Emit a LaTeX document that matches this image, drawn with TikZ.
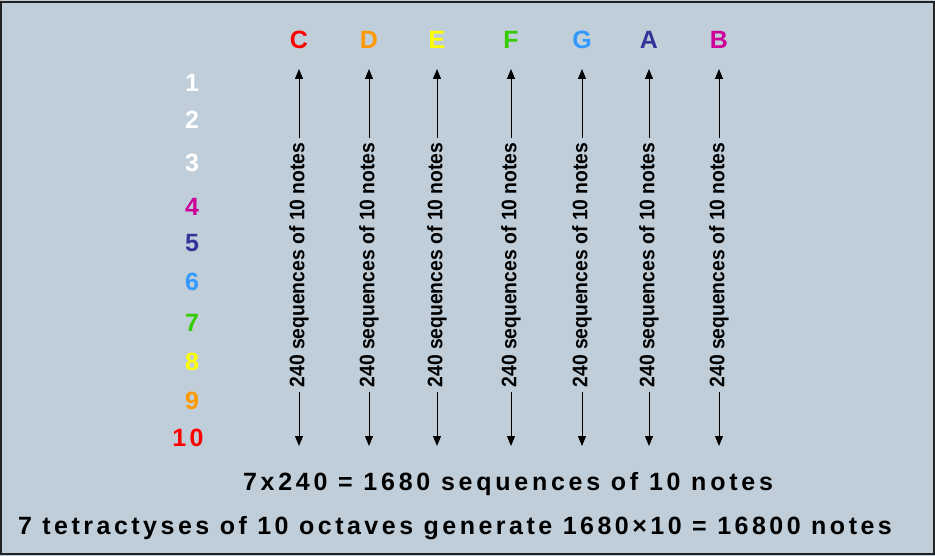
\documentclass[tikz,border=0pt]{standalone}
\usepackage{fontspec}
\setmainfont{Liberation Sans}
\newfontfamily\spaced[LetterSpace=15]{Liberation Sans}
\newfontfamily\spacedtight[LetterSpace=14]{Liberation Sans}
\newfontfamily\narrow[FakeStretch=0.92]{Liberation Sans}
\usetikzlibrary{arrows.meta}
\definecolor{panel}{HTML}{C0CED9}
\definecolor{rim}{HTML}{222222}
\definecolor{nC}{HTML}{FF0000}
\definecolor{nD}{HTML}{FF9900}
\definecolor{nE}{HTML}{FFFF00}
\definecolor{nF}{HTML}{33CC00}
\definecolor{nG}{HTML}{3399FF}
\definecolor{nA}{HTML}{333399}
\definecolor{nB}{HTML}{CC0099}
\begin{document}
\begin{tikzpicture}[x=1pt,y=-1pt,
  note/.style={font=\fontsize{25}{25}\bfseries\selectfont, inner sep=0pt},
  level/.style={font=\fontsize{25}{25}\bfseries\selectfont, inner sep=0pt},
  seqlabel/.style={rotate=90, font=\fontsize{21}{21}\narrow\bfseries, inner sep=0pt, outer sep=5pt},
  arrowline/.style={line width=1pt, -{Triangle[width=8pt,length=10pt]}},
  summary/.style={font=\fontsize{25}{25}\spaced\bfseries, inner sep=0pt}]
  % panel
  \fill[panel] (0,0) rectangle (935,556);
  \draw[rim, line width=2pt] (1,2) rectangle (934,554);
  \useasboundingbox (0,0) rectangle (935,556);

  % octave numbers
  \foreach \n/\yy/\c in {1/83/white,2/120/white,3/163/white,4/207/nB,5/243/nA,6/282/nG,7/323/nF,8/362/nE,9/401/nD}
    \node[level, text=\c] (lv\n) at (192,\yy) {\n};
  \node[level, text=nC] (lv10) at (188,438) {1\kern3.5pt0};

  % columns: note name, label and two arrows
  \foreach \k/\xx/\c in {C/299/nC,D/369/nD,E/437/nE,F/511/nF,G/582/nG,A/649/nA,B/719/nB}{
    \node[note, text=\c] (n\k) at (\xx,40) {\k};
    \node[seqlabel] (s\k) at (\xx,265) {240 sequences of 10 notes};
    \coordinate (t\k) at (\xx,69);
    \coordinate (b\k) at (\xx,446);
    \draw[arrowline] (s\k.east) -- (t\k);
    \draw[arrowline] (s\k.west) -- (b\k);
  }

  % totals
  \node[summary] (tot1) at (508,484) {7x240 = 1680 sequences of 10 notes};
  \node[summary, font=\fontsize{25}{25}\spacedtight\bfseries] (tot2) at (455,528) {7 tetractyses of 10 octaves generate 1680×10 = 16800 notes};
\end{tikzpicture}
\end{document}
